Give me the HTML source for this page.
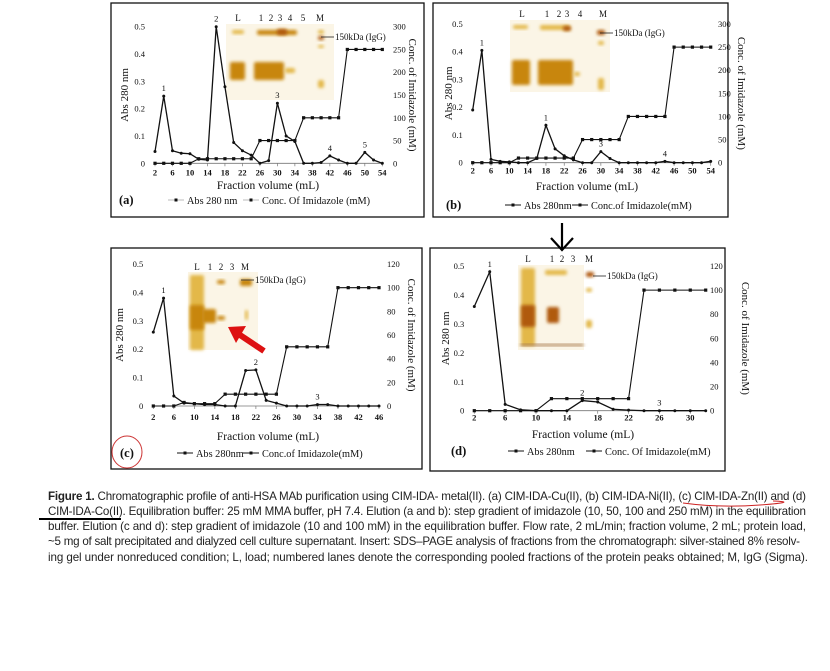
<!DOCTYPE html>
<html><head><meta charset="utf-8"><style>
html,body{margin:0;padding:0;background:#fff;}
svg{display:block;}
.t{font-family:"Liberation Serif",serif;fill:#111;}
.c{font-family:"Liberation Sans",sans-serif;fill:#222;font-size:11.6px;}
</style></head><body>
<svg id="fig" width="830" height="671" viewBox="0 0 830 671" xmlns="http://www.w3.org/2000/svg">
<defs><filter id="bl" x="-50%" y="-50%" width="200%" height="200%"><feGaussianBlur stdDeviation="1.6"/></filter></defs>
<rect width="830" height="671" fill="#fff"/>
<g id="root"></g>
<g>
<text class="c" x="48" y="500" textLength="758"><tspan font-weight="bold">Figure 1.</tspan>  Chromatographic profile of anti-HSA MAb purification using CIM-IDA- metal(II). (a) CIM-IDA-Cu(II), (b) CIM-IDA-Ni(II), (c) CIM-IDA-Zn(II) and (d)</text>
<text class="c" x="48" y="515" textLength="758">CIM-IDA-Co(II). Equilibration buffer: 25 mM MMA buffer, pH 7.4. Elution (a and b): step gradient of imidazole (10, 50, 100 and 250 mM) in the equilibration</text>
<text class="c" x="48" y="530" textLength="758">buffer. Elution (c and d): step gradient of imidazole (10 and 100 mM) in the equilibration buffer. Flow rate, 2 mL/min; fraction volume, 2 mL; protein load,</text>
<text class="c" x="48" y="545" textLength="752">~5 mg of salt precipitated and dialyzed cell culture supernatant. Insert: SDS–PAGE analysis of fractions from the chromatograph: silver-stained 8% resolv-</text>
<text class="c" x="48" y="561" textLength="760">ing gel under nonreduced condition; L, load; numbered lanes denote the corresponding pooled fractions of the protein peaks obtained; M, IgG (Sigma).</text>
<line x1="39" y1="519" x2="121" y2="519" stroke="#000" stroke-width="2"/>
<path d="M683,503 Q720,508 760,505 T773,501" fill="none" stroke="#c22" stroke-width="1"/>
</g>
<g>
<line x1="562" y1="223" x2="562" y2="249" stroke="#000" stroke-width="2.2"/>
<polyline points="551,238 562,250 573,238" fill="none" stroke="#000" stroke-width="2.2"/>
</g>
<ellipse cx="127" cy="452" rx="15" ry="16" fill="none" stroke="#c33" stroke-width="1"/>
<g>
<line x1="264" y1="351" x2="240" y2="335" stroke="#d11" stroke-width="6"/>
<polygon points="228,327 246,326 236,343" fill="#d11"/>
</g>
</svg>
<script>
// ---- data ----
const aX=[2,4,6,8,10,12,14,16,18,20,22,24,26,28,30,32,34,36,38,40,42,44,46,48,50,52,54];
const aAbs=[0.043,0.246,0.046,0.037,0.035,0.015,0.012,0.5,0.28,0.076,0.046,0.03,0,0.01,0.22,0.1,0.08,0,0,0.003,0.027,0.012,0,0,0.04,0.012,0];
const aImid=[0,0,0,0,0,10,10,10,10,10,10,10,50,50,50,50,50,100,100,100,100,100,250,250,250,250,250];
const aPeakX=[4,16,30,42,50];
const aPeakLbl=["1","2","3","4","5"];
const bX=[2,4,6,8,10,12,14,16,18,20,22,24,26,28,30,32,34,36,38,40,42,44,46,48,50,52,54];
const bAbs=[0.19,0.405,0.012,0.005,0.003,0,0,0.015,0.135,0.05,0.025,0.01,0,0,0.04,0.015,0,0,0,0,0,0.005,0,0,0,0,0.005];
const bImid=[0,0,0,0,0,10,10,10,10,10,10,10,50,50,50,50,50,100,100,100,100,100,250,250,250,250,250];
const bPeakX=[4,18,30,44];
const bPeakLbl=["1","1","3","4"];
const cX=[2,4,6,8,10,12,14,16,18,20,22,24,26,28,30,32,34,36,38,40,42,44,46];
const cAbs=[0.26,0.38,0.035,0.01,0.008,0.005,0.005,0,0,0.125,0.127,0.02,0.01,0,0,0,0.005,0.005,0,0,0,0,0];
const cImid=[0,0,0,3,2,2,2,10,10,10,10,10,10,50,50,50,50,50,100,100,100,100,100];
const cPeakX=[4,22,34];
const cPeakLbl=["1","2","3"];
const dX=[2,4,6,8,10,12,14,16,18,20,22,24,26,28,30,32];
const dAbs=[0.36,0.48,0.022,0.003,0,0,0,0.035,0.03,0.005,0.002,0,0,0,0,0];
const dImid=[0,0,0,0,0,10,10,10,10,10,10,100,100,100,100,100];
const dPeakX=[4,16,26];
const dPeakLbl=["1","2","3"];
const leftTicks=[0,0.1,0.2,0.3,0.4,0.5];
const leftTickLbl=["0","0.1","0.2","0.3","0.4","0.5"];
const rightTicksAB=[0,50,100,150,200,250,300];
const rightTicksCD=[0,20,40,60,80,100,120];
const xTicksAB=[2,6,10,14,18,22,26,30,34,38,42,46,50,54];
const xTicksC=[2,6,10,14,18,22,26,30,34,38,42,46];
const xTicksD=[2,6,10,14,18,22,26,30];

const NS="http://www.w3.org/2000/svg";
const root=document.getElementById('root');
function mk(tag,attrs,parent,txt){const e=document.createElementNS(NS,tag);for(const k in attrs)e.setAttribute(k,attrs[k]);if(txt!==undefined)e.textContent=txt;(parent||root).appendChild(e);return e;}

function panel(P,xs,abs,imid,rTicks,xTicks,peakX,peakLbl){
  const g=mk('g',{});
  
  
  const box=mk('rect',{x:P.bx,y:P.by,width:P.bw,height:P.bh,fill:'none',stroke:'#111','stroke-width':1.3},g);
  
  
  const X=v=>P.x0+(v-P.xmin)/(P.xmax-P.xmin)*(P.x1-P.x0);
  const YL=v=>P.y0-v/0.5*(P.y0-P.y1);
  const rmax=rTicks[rTicks.length-1];
  const YR=v=>P.y0-v/rmax*(P.y0-P.y1);
  const gel=mk('g',{},g);
  
  
  mk('rect',{x:P.gel[0],y:P.gel[1],width:P.gel[2],height:P.gel[3],fill:'#fbf5e6'},gel);
  P.bands.forEach(b=>{mk('rect',{x:b[0],y:b[1],width:b[2],height:b[3],fill:b[4],filter:'url(#bl)',rx:2},gel);});
  P.lanes.forEach(l=>{const t=mk('text',{class:'t',x:l[0],y:P.laneY,'font-size':9,'text-anchor':'middle'},gel,l[1]);
    });
  const mw=mk('text',{class:'t',x:P.mw[0],y:P.mw[1],'font-size':9},gel,'150kDa (IgG)');
  
  mk('line',{x1:P.mw[0]-14,y1:P.mw[1]-3,x2:P.mw[0]-1,y2:P.mw[1]-3,stroke:'#222','stroke-width':0.8},gel);
  const ax=mk('line',{x1:P.x0,y1:P.y0,x2:P.x1,y2:P.y0,stroke:'#777','stroke-width':0.8},g);
  
  leftTicks.forEach((v,i)=>{const t=mk('text',{class:'t',x:P.x0-10,y:YL(v)+3,'font-size':8.5,'text-anchor':'end'},g,leftTickLbl[i]);
    });
  rTicks.forEach(v=>{const t=mk('text',{class:'t',x:P.rx,y:YR(v)+3,'font-size':8.5},g,String(v));
    });
  xTicks.forEach(v=>{mk('line',{x1:X(v),y1:P.y0,x2:X(v),y2:P.y0+3,stroke:'#777','stroke-width':0.7},g);
    const t=mk('text',{class:'t',x:X(v),y:P.y0+P.tko,'font-size':8.5,'text-anchor':'middle','font-weight':'bold'},g,String(v));
    });
  const yt=mk('text',{class:'t','font-size':11,'text-anchor':'middle',transform:`translate(${P.ltx},${(P.y0+P.y1)/2}) rotate(-90)`},g,P.ltitle);
  
  const yt2=mk('text',{class:'t','font-size':11,'text-anchor':'middle',transform:`translate(${P.rtx},${(P.y0+P.y1)/2}) rotate(90)`},g,P.rtitle);
  
  const xt=mk('text',{class:'t',x:P.xtx,y:P.xty,'font-size':11.5,'text-anchor':'middle'},g,'Fraction volume (mL)');
  
  const l1=mk('polyline',{points:xs.map((x,i)=>X(x)+','+YR(imid[i])).join(' '),fill:'none',stroke:'#111','stroke-width':1.1},g);
  
  xs.forEach((x,i)=>{const r=mk('rect',{x:X(x)-1.6,y:YR(imid[i])-1.6,width:3.2,height:3.2,fill:'#111'},g);
    });
  const l2=mk('polyline',{points:xs.map((x,i)=>X(x)+','+YL(abs[i])).join(' '),fill:'none',stroke:'#111','stroke-width':1.3},g);
  
  xs.forEach((x,i)=>{const c=mk('circle',{cx:X(x),cy:YL(abs[i]),r:1.5,fill:'#111'},g);
    });
  peakX.forEach((px,i)=>{const k=xs.indexOf(px);const t=mk('text',{class:'t',x:X(px),y:YL(abs[k])-5,'font-size':8.5,'text-anchor':'middle'},g,peakLbl[i]);
    });
  const lg=mk('g',{},g);
  
  const pl=mk('text',{class:'t',x:P.lgx,y:P.lgy,'font-size':12.5,'font-weight':'bold'},lg,'('+P.id+')');
  
  P.leg.forEach(e=>{
    mk('line',{x1:e[0],y1:P.lgy-4,x2:e[0]+16,y2:P.lgy-4,stroke:P.legFaint?'#bbb':'#111','stroke-width':1},lg);
    mk('rect',{x:e[0]+6.5,y:P.lgy-5.5,width:3,height:3,fill:'#111'},lg);
    const t=mk('text',{class:'t',x:e[0]+19,y:P.lgy,'font-size':10.3},lg,e[1]);
    
  });
}

const O='#c8860e',Y='#e3b84a',D='#b05a10';
panel({id:'a',bx:111,by:3,bw:313,bh:214,x0:155,x1:382.3,xmin:2,xmax:54,y0:163.3,y1:26.7,rx:393,tko:12,
  ltx:128,rtx:409,ltitle:'Abs 280 nm',rtitle:'Conc. of Imidazole (mM)',xtx:268,xty:189,lgx:119,lgy:204,legFaint:true,
  leg:[[168,'Abs 280 nm'],[243,'Conc. Of Imidazole (mM)']],
  gel:[226,24,108,76],laneY:21,lanes:[[238,'L'],[261,'1'],[271,'2'],[280,'3'],[290,'4'],[303,'5'],[320,'M']],mw:[335,40],
  bands:[[232,30,12,4,Y],[257,30,40,5,O],[277,29,10,6,D],[230,62,15,18,O],[254,62,30,18,O],[285,68,10,5,Y],[318,30,6,4,Y],[318,36,6,4,D],[318,45,6,3,Y],[318,80,6,8,Y]]},
  aX,aAbs,aImid,rightTicksAB,xTicksAB,aPeakX,aPeakLbl);
panel({id:'b',bx:433,by:3,bw:295,bh:214,x0:472.7,x1:710.7,xmin:2,xmax:54,y0:162.7,y1:24,rx:718,tko:11,
  ltx:452,rtx:738,ltitle:'Abs 280 nm',rtitle:'Conc. of Imidazole (mM)',xtx:587,xty:190,lgx:446,lgy:209,
  leg:[[505,'Abs 280nm'],[572,'Conc.of Imidazole(mM)']],
  gel:[510,20,100,72],laneY:17,lanes:[[522,'L'],[547,'1'],[559,'2'],[567,'3'],[580,'4'],[603,'M']],mw:[614,36],
  bands:[[513,25,15,4,Y],[540,25,30,5,Y],[563,26,8,5,D],[512,60,18,25,O],[538,60,35,25,O],[574,72,6,4,Y],[597,30,8,5,D],[598,41,6,4,Y],[598,78,6,12,Y]]},
  bX,bAbs,bImid,rightTicksAB,xTicksAB,bPeakX,bPeakLbl);
panel({id:'c',bx:111,by:248,bw:311,bh:221,x0:153.3,x1:379,xmin:2,xmax:46,y0:406,y1:264,rx:387,tko:14,
  ltx:123,rtx:408,ltitle:'Abs 280 nm',rtitle:'Conc. of Imidazole (mM)',xtx:268,xty:440,lgx:120,lgy:457,
  leg:[[177,'Abs 280nm'],[243,'Conc.of Imidazole(mM)']],
  gel:[188,272,70,78],laneY:270,lanes:[[197,'L'],[210,'1'],[221,'2'],[232,'3'],[245,'M']],mw:[255,283],
  bands:[[190,275,14,75,Y],[190,305,14,25,O],[202,309,14,14,O],[217,280,8,4,O],[217,316,8,4,O],[240,279,12,7,O],[245,310,3,10,Y]]},
  cX,cAbs,cImid,rightTicksCD,xTicksC,cPeakX,cPeakLbl);
panel({id:'d',bx:430,by:248,bw:295,bh:223,x0:474.3,x1:705.7,xmin:2,xmax:32,y0:410.7,y1:266,rx:710,tko:10,
  ltx:449,rtx:742,ltitle:'Abs 280 nm',rtitle:'Conc. of Imidazole (mM)',xtx:583,xty:438,lgx:451,lgy:455,
  leg:[[508,'Abs 280nm'],[586,'Conc. Of Imidazole(mM)']],
  gel:[518,265,66,85],laneY:262,lanes:[[528,'L'],[552,'1'],[562,'2'],[573,'3'],[589,'M']],mw:[607,279],
  bands:[[521,268,14,78,Y],[521,305,14,22,D],[547,307,12,16,D],[545,270,22,5,Y],[586,272,8,5,D],[586,288,6,4,Y],[586,320,6,8,Y],[520,344,64,2,'#a07040']]},
  dX,dAbs,dImid,rightTicksCD,xTicksD,dPeakX,dPeakLbl);
</script>
</body></html>
